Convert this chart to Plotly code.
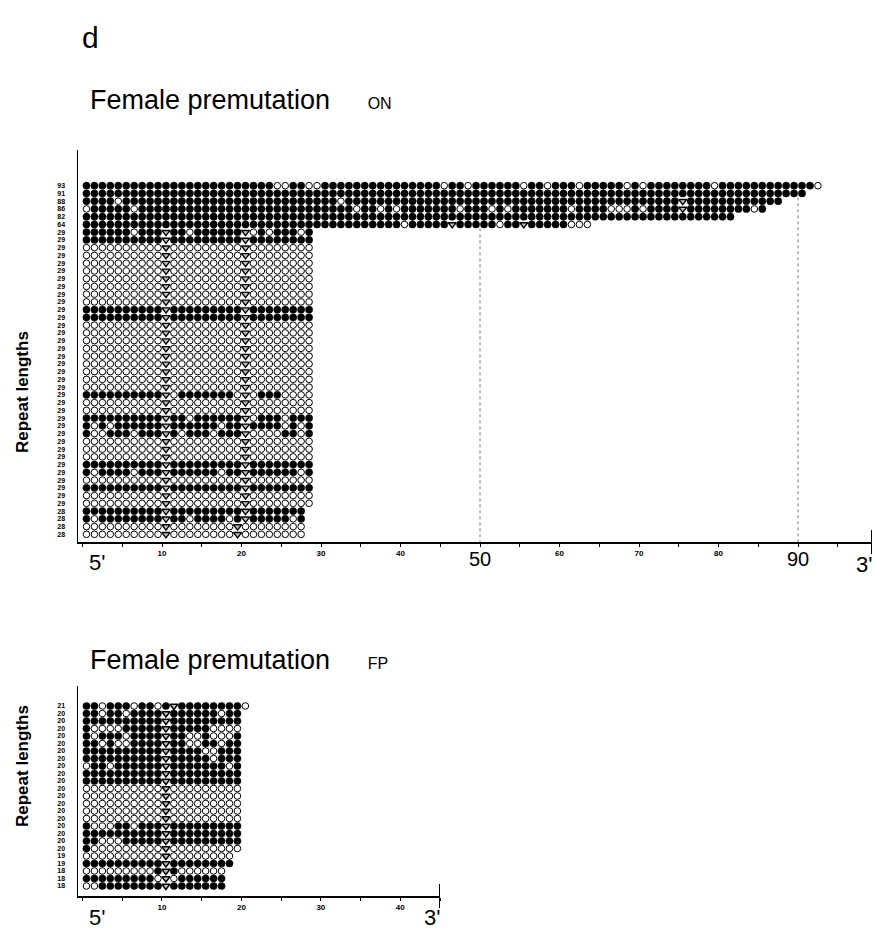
import plotly.graph_objects as go

# ---------------- DATA ----------------
# Per-row repeat patterns (5' -> 3').
# F = filled (methylated) CGG, O = open (unmethylated) CGG, A = AGG interruption
on_lengths = [93, 91, 88, 86, 82, 64] + [29] * 36 + [28] * 4
on_patterns = [
    "FFFFFFFFFF FFFFFFFFFF FFFFOOFFOO FFFFFFFFFF FFFFFOFFOF FFFFFOFFOF FFOFFFFFOF OFFFFFFFFO FFFFFFFFFF FFO",
    "FFFFFFFFFF FFFFFFFFFF FFFFFFFFFF FFFFFFFFFF FFFFFFFFFF FFFFFFFFFF FFFFFFFFFF FFFFFFFFFF FFFFFFFFFF F",
    "FFFFOFFFFF FFFFFFFFFF FFFFFFFFFF FFOFFFFFFF FFFFFFFFFF FFFFFFFFFF FFFFFFFFFF FFFFFAFFFF FFFFFFFF",
    "OFFFFFOFFF FFFFFFFFFF FFFFFFFFFF FFFFOFFOFO FFFFFFFOFF FOFOFFFFFF FOFFFFOOOF OFFFFAFFFF FFFFOF",
    "FFFFFFFFFF FFFFFFFFFF FFFFFFFFFF FFFFFFFFFF FFFFFFFFFF FFFFFFFFFF FFFFFFFFFF FFFFFFFFFF FF",
    "FFFFFFFFFF FFFFFFFFFF FFFFFFFFFF FFFFFFFFFF OFFFFFAFFF FFOFFAFFFF FOOO",
    "FFFFFFOFFF AFFOFFFFFF AOFOFFFOF",   # 7
    "FFFFFFFFFF AFFFFFFFFF AFFFFFFFF",   # 8
    "OOOOOOOOOO AOOOOOOOOO AOOOOOOOO",   # 9
    "OOOOOOOOOO AOOOOOOOOO AOOOOOOOO",
    "OOOOOOOOOO AOOOOOOOOO AOOOOOOOO",
    "OOOOOOOOOO AOOOOOOOOO AOOOOOOOO",
    "OOOOOOOOOO AOOOOOOOOO AOOOOOOOO",
    "OOOOOOOOOO AOOOOOOOOO AOOOOOOOO",
    "OOOOOOOOOO AOOOOOOOOO AOOOOOOOO",
    "OOOOOOOOOO AOOOOOOOOO AOOOOOOOO",   # 16
    "FFFFFFFFFF AFFFFFFFFF AFFFFFFFF",   # 17
    "FFFFFFFFFF AFFFFFFFFF AFFFFFFFF",   # 18
    "OOOOOOOOOO AOOOOOOOOO AOOOOOOOO",   # 19
    "OOOOOOOOOO AOOOOOOOOO AOOOOOOOO",
    "OOOOOOOOOO AOOOOOOOOO AOOOOOOOO",
    "OOOOOOOOOO AOOOOOOOOO AOOOOOOOO",
    "OOOOOOOOOO AOOOOOOOOO AOOOOOOOO",
    "OOOOOOOOOO AOOOOOOOOO AOOOOOOOO",
    "OOOOOOOOOO AOOOOOOOOO AOOOOOOOO",
    "OOOOOOOOOO AOOOOOOOOO AOOOOOOOO",
    "OOOOOOOOOO AOOOOOOOOO AOOOOOOOO",   # 27
    "FFFFFFFFFF AOFFFFFFFO AOFFFOOOO",   # 28
    "OOOOOOOOOO AOOOOOOOOO AOOOOOOOO",   # 29
    "OOOOOOOOOO AOOOOOOOOO AOOOOOOOO",   # 30
    "FFFFFFFFFF AFFOFFFFFF AOFFFOFFF",   # 31
    "FOFOFFFFFF AFFFFFFOFF AFFFFOFOF",   # 32
    "FOOFFFOFFF AFOFFFOFFF AOOOOFFOF",   # 33
    "OOOOOOOOOO AOOOOOOOOO AOOOOOOOO",   # 34
    "OOOOOOOOOO AOOOOOOOOO AOOOOOOOO",
    "OOOOOOOOOO AOOOOOOOOO AOOOOOOOO",   # 36
    "FFFFFFFFFF AFFFFFFFFF AFFFFFFFF",   # 37
    "FOFFFFOFFF AFFFFFFOFF AFFFFFFOF",   # 38
    "OOOOOOOOOO AOOOOOOOOO AOOOOOOOO",   # 39
    "FFFFFFFFFF AFFFFFFFFF AFFFFFFFF",   # 40
    "OOOOOOOOOO AOOOOOOOOO AOOOOOOOO",   # 41
    "OOOOOOOOOO AOOOOOOOOO AOOOOOOOO",   # 42
    "FFFFFFFFFF AFFFFFFFFF AFFFFFFF",    # 43 (28)
    "FOFFFFFFFF AFFOFFFFOF AFFFFFOF",    # 44 (28)
    "OOOOOOOOOO AOOOOOOOOA OOOOOOOO",    # 45 (28)
    "OOOOOOOOOO AOOOOOOOOA OOOOOOOO",    # 46 (28)
]

fp_lengths = [21] + [20] * 19 + [19] * 2 + [18] * 3
fp_patterns = [
    "FFOFFFOFFO FAFFFFFFFF O",
    "FFOFFOFFFF AFFFFFFOFF",
    "FFFFFFFFFF AFFFFFFFFF",
    "FOOOOFFFFF AFFFFFOOOO",
    "FOFFFOFFFF AFFOOFOOOF",
    "FFOFOOFFFF AFFOOFFOFF",
    "FFFFFFFFFF AFFFFOOFFF",
    "FFFFFFFFFF AFFFFFOFFF",
    "OFFOFFFFFF AFFFFFFFOF",
    "FFFFFFFFFF AFFFFFFFFF",
    "FFFFFFFFFF AFFFFFFFFF",
    "OOOOOOOOOO AOOOOOOOOO",
    "OOOOOOOOOO AOOOOOOOOO",
    "OOOOOOOOOO AOOOOOOOOO",
    "OOOOOOOOOO AOOOOOOOOO",
    "OOOOOOOOOO AOOOOOOOOO",
    "FOOOFFOFFF AFFFFFFFFF",
    "FFFFFFFFFF AFFFFFFFFF",
    "FFOOOFFFFF AFFFFFFFFF",
    "FOOOOOOOOO AOOOOOOOOO",
    "OOOOOOOOOO AOOOOOOOO",
    "FFFFFFFFFF AFFFFFFFF",
    "OOOOOOOOOF AFOOOOOO",
    "FFFFFFFFFO AOFFFFFF",
    "OOFFFFFFFF AFFFFFFF",
]

x_ticks_small = [10, 20, 30, 40, 60, 70, 80]
x_ticks_big = [50, 90]
fp_ticks = [10, 20, 30, 40]
on_axis_end = 99.3     # 3' end of the ON axis
fp_axis_end = 45.0     # 3' end of the FP axis
dotted_marks = [50, 90]

# ---------------- LAYOUT HELPERS ----------------
W, H = 875, 936
def px(x):
    return x / W
def py(y):
    return 1 - y / H

FONT = "Liberation Sans"


def panel_traces(patterns, xa, ya):
    pts = {"F": ([], []), "O": ([], []), "A": ([], [])}
    for r, pat in enumerate(patterns, start=1):
        s = pat.replace(" ", "")
        for p, ch in enumerate(s, start=1):
            pts[ch][0].append(p - 0.5)
            pts[ch][1].append(r)
    tr = []
    tr.append(go.Scatter(x=pts["O"][0], y=pts["O"][1], mode="markers", xaxis=xa, yaxis=ya,
                         marker=dict(symbol="circle", size=6.6, color="white",
                                     line=dict(color="black", width=1)),
                         hoverinfo="skip", showlegend=False))
    tr.append(go.Scatter(x=pts["F"][0], y=pts["F"][1], mode="markers", xaxis=xa, yaxis=ya,
                         marker=dict(symbol="circle", size=7.2, color="black",
                                     line=dict(color="black", width=0.5)),
                         hoverinfo="skip", showlegend=False))
    tr.append(go.Scatter(x=pts["A"][0], y=pts["A"][1], mode="markers", xaxis=xa, yaxis=ya,
                         marker=dict(symbol="triangle-down", size=7, color="#bbbbbb",
                                     line=dict(color="black", width=1.4)),
                         hoverinfo="skip", showlegend=False))
    return tr

fig = go.Figure()
for t in panel_traces(on_patterns, "x", "y"):
    fig.add_trace(t)
for t in panel_traces(fp_patterns, "x2", "y2"):
    fig.add_trace(t)

# panel geometry (window pixels)
top_row1, top_step = 185.7, 7.747
top_axis_top, top_axis_y = 150, 542
bot_row1, bot_step = 706, 7.5
bot_axis_top, bot_axis_y = 686, 896
x_left_px, on_right_px, fp_right_px = 78, 872, 440

def row_at(pix, r1, step):
    return 1 + (pix - r1) / step

axis_common = dict(showgrid=False, zeroline=False, showline=True, linecolor="black",
                   linewidth=1.5, fixedrange=True, automargin=False)

fig.update_layout(
    width=W, height=H, margin=dict(l=0, r=0, t=0, b=0, pad=0, autoexpand=False),
    paper_bgcolor="white", plot_bgcolor="white", showlegend=False,
    xaxis=dict(domain=[px(x_left_px), px(on_right_px)], range=[-0.566, on_axis_end], anchor="y",
               tickvals=x_ticks_small, ticktext=[str(v) for v in x_ticks_small],
               tickfont=dict(family=FONT, size=8, color="black", weight="bold"),
               ticks="outside", ticklen=3, tickcolor="black",
               minor=dict(dtick=5, tick0=0, ticks="outside", ticklen=3, tickcolor="black"),
               **axis_common),
    yaxis=dict(domain=[py(top_axis_y), py(top_axis_top)],
               range=[row_at(top_axis_y, top_row1, top_step), row_at(top_axis_top, top_row1, top_step)],
               anchor="x", tickvals=list(range(1, len(on_lengths) + 1)),
               ticktext=[str(v) for v in on_lengths],
               tickfont=dict(family=FONT, size=7, color="black", weight="bold"),
               ticks="", ticklabelstandoff=10, **axis_common),
    xaxis2=dict(domain=[px(x_left_px), px(fp_right_px)], range=[-0.566, fp_axis_end], anchor="y2",
                tickvals=fp_ticks, ticktext=[str(v) for v in fp_ticks],
                tickfont=dict(family=FONT, size=8, color="black", weight="bold"),
                ticks="outside", ticklen=3, tickcolor="black",
                minor=dict(dtick=5, tick0=0, ticks="outside", ticklen=3, tickcolor="black"),
                **axis_common),
    yaxis2=dict(domain=[py(bot_axis_y), py(bot_axis_top)],
                range=[row_at(bot_axis_y, bot_row1, bot_step), row_at(bot_axis_top, bot_row1, bot_step)],
                anchor="x2", tickvals=list(range(1, len(fp_lengths) + 1)),
                ticktext=[str(v) for v in fp_lengths],
                tickfont=dict(family=FONT, size=7, color="black", weight="bold"),
                ticks="", ticklabelstandoff=10, **axis_common),
)

ann = []
def text(x, y, s, size, xanchor="center", angle=0, weight="normal", xref="paper"):
    ann.append(dict(x=x if xref != "paper" else px(x), y=py(y), xref=xref, yref="paper",
                    text=s, showarrow=False, xanchor=xanchor, yanchor="middle",
                    textangle=angle,
                    font=dict(family=FONT, size=size, color="black", weight=weight)))

text(80, 38, "d", 30, xanchor="left")
text(88, 100, "Female premutation&nbsp;&nbsp;&nbsp;&nbsp;&nbsp;<span style='font-size:16px'>ON</span>", 27, xanchor="left")
text(88, 660, "Female premutation&nbsp;&nbsp;&nbsp;&nbsp;&nbsp;<span style='font-size:16px'>FP</span>", 27, xanchor="left")
text(22, 392, "Repeat lengths", 17, angle=-90, weight="bold")
text(22, 766, "Repeat lengths", 17, angle=-90, weight="bold")
# 5' / 3' ends
text(97, top_axis_y + 20, "5'", 22)
text(864, top_axis_y + 22, "3'", 22)
text(97, bot_axis_y + 21, "5'", 22)
text(432, bot_axis_y + 21, "3'", 22)
# large tick labels
for v in x_ticks_big:
    text(v, top_axis_y + 17, str(v), 20, xref="x")

fig.update_layout(annotations=ann)

shapes = []
# 3' end bars
for xend, yax, xr in [(on_axis_end, top_axis_y, "x"), (fp_axis_end, bot_axis_y, "x2")]:
    shapes.append(dict(type="line", xref=xr, yref="paper", x0=xend, x1=xend,
                       y0=py(yax - 12), y1=py(yax + 12), line=dict(color="black", width=2)))
# dotted guide lines below the last row that reaches each mark
for v in dotted_marks:
    reach = [i + 1 for i, L in enumerate(on_lengths) if L >= v]
    r0 = max(reach) + 0.5
    shapes.append(dict(type="line", xref="x", yref="y", x0=v, x1=v, y0=r0,
                       y1=row_at(top_axis_y, top_row1, top_step),
                       line=dict(color="#777777", width=1, dash="dot")))
fig.update_layout(shapes=shapes)

page_fix = ("document.documentElement.style.margin='0';document.body.style.margin='0';"
            "document.documentElement.style.overflow='hidden';document.body.style.overflow='hidden';")
fig.write_html("out.html", post_script=page_fix,
               config={"displayModeBar": False, "staticPlot": True})
